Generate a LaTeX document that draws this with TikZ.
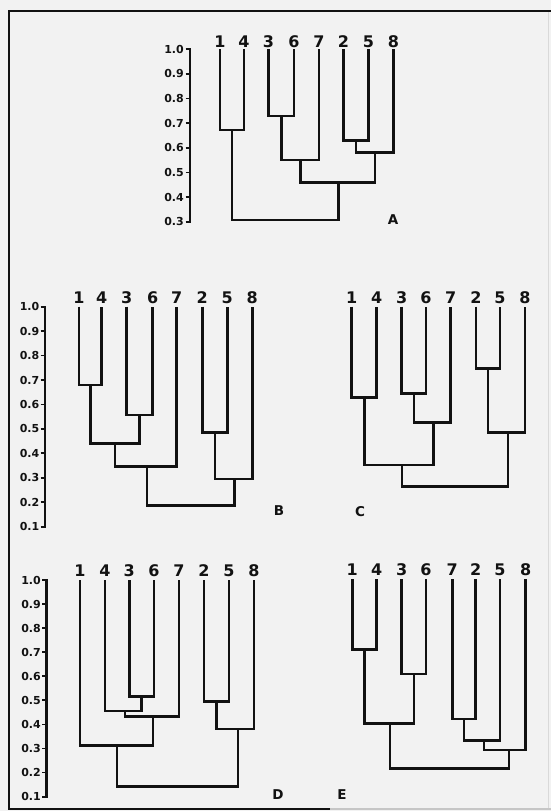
\documentclass[tikz,border=0pt]{standalone}
\usepackage{fontspec}
\setmainfont{DejaVu Sans}
\definecolor{paper}{RGB}{242,242,242}
\definecolor{ink}{RGB}{18,18,18}
\tikzset{
  link/.style={draw=ink, line width=2.6pt},
  axisline/.style={draw=ink, line width=2.3pt, line cap=rect},
  tickmark/.style={draw=ink, line width=1.8pt},
  leaflab/.style={font=\fontsize{16}{16}\selectfont\bfseries, text=ink, anchor=base, inner sep=0pt, yshift=3.5pt},
  ticklab/.style={font=\fontsize{11}{11}\selectfont\bfseries, text=ink, anchor=east, inner sep=0pt},
  panellab/.style={font=\fontsize{13.5}{13.5}\selectfont\bfseries, text=ink, inner sep=0pt},
  frame/.style={draw=ink, line width=2.6pt},
}
\begin{document}
\begin{tikzpicture}[x=1pt,y=-1pt]
  % page and outer frame
  \fill[paper] (0,0) rectangle (551,811);
  \useasboundingbox (0,0) rectangle (551,811);
  \draw[frame] (551,11) -- (9,11) -- (9,809) -- (330,809);
  \draw[draw=gray!45, line width=1.6pt] (330,809) -- (551,809);
  \draw[draw=gray!30, line width=1pt] (548,12) -- (548,808);

  % ---------------- dendrogram A ----------------
  \draw[axisline] (190,49.3) -- (190,221.7);
  \foreach \k/\v in {0/1.0,1/0.9,2/0.8,3/0.7,4/0.6,5/0.5,6/0.4,7/0.3} {
    \draw[tickmark] (185.5,49.3+\k*24.63) -- (190,49.3+\k*24.63);
    \node[ticklab] (A-y\k) at (184,49.3+\k*24.63) {\v};
  }
  \foreach \n/\x in {1/220,4/244,3/268.5,6/294,7/319,2/343.5,5/368.5,8/393.5} {
    \coordinate (A-\n) at (\x,49.3);
    \node[leaflab, yshift=-1.5pt] (A-l\n) at (A-\n) {\n};
  }
  \coordinate (A-m14)   at (232,130);
  \coordinate (A-m36)   at (281.3,116);
  \coordinate (A-m367)  at (300.2,160);
  \coordinate (A-m25)   at (356,140.7);
  \coordinate (A-m258)  at (374.8,152.7);
  \coordinate (A-mr)    at (338.5,182.7);
  \coordinate (A-root)  at (285.2,220);
  \draw[link] (A-1) |- (A-m14) -| (A-4);
  \draw[link] (A-3) |- (A-m36) -| (A-6);
  \draw[link] (A-m36) |- (A-m367) -| (A-7);
  \draw[link] (A-2) |- (A-m25) -| (A-5);
  \draw[link] (A-m25) |- (A-m258) -| (A-8);
  \draw[link] (A-m367) |- (A-mr) -| (A-m258);
  \draw[link] (A-m14) |- (A-root) -| (A-mr);
  \node[panellab] (A-name) at (393,220) {A};

  % ---------------- axis for B and C ----------------
  \draw[axisline] (45,306.7) -- (45,526.7);
  \foreach \k/\v in {0/1.0,1/0.9,2/0.8,3/0.7,4/0.6,5/0.5,6/0.4,7/0.3,8/0.2,9/0.1} {
    \draw[tickmark] (40.5,306.7+\k*24.44) -- (45,306.7+\k*24.44);
    \node[ticklab] (B-y\k) at (39.5,306.7+\k*24.44) {\v};
  }

  % ---------------- dendrogram B ----------------
  \foreach \n/\x in {1/79,4/101.7,3/126.7,6/152.7,7/176.7,2/202.3,5/227.3,8/252.3} {
    \coordinate (B-\n) at (\x,306.7);
    \node[leaflab] (B-l\n) at (B-\n) {\n};
  }
  \coordinate (B-m14)    at (90.3,385);
  \coordinate (B-m36)    at (139.7,415);
  \coordinate (B-m1436)  at (115,443.3);
  \coordinate (B-m14367) at (147,466.7);
  \coordinate (B-m25)    at (214.8,432.3);
  \coordinate (B-m258)   at (234.5,479);
  \coordinate (B-root)   at (190.7,505.7);
  \draw[link] (B-1) |- (B-m14) -| (B-4);
  \draw[link] (B-3) |- (B-m36) -| (B-6);
  \draw[link] (B-m14) |- (B-m1436) -| (B-m36);
  \draw[link] (B-m1436) |- (B-m14367) -| (B-7);
  \draw[link] (B-2) |- (B-m25) -| (B-5);
  \draw[link] (B-m25) |- (B-m258) -| (B-8);
  \draw[link] (B-m14367) |- (B-root) -| (B-m258);
  \node[panellab] (B-name) at (279,511) {B};

  % ---------------- dendrogram C ----------------
  \foreach \n/\x in {1/351.7,4/376.7,3/401.7,6/426,7/450.7,2/476,5/500,8/525} {
    \coordinate (C-\n) at (\x,306.7);
    \node[leaflab] (C-l\n) at (C-\n) {\n};
  }
  \coordinate (C-m14)    at (364.2,397.3);
  \coordinate (C-m36)    at (413.8,393.3);
  \coordinate (C-m367)   at (433.5,422.7);
  \coordinate (C-m25)    at (488,368.3);
  \coordinate (C-m258)   at (508,432.3);
  \coordinate (C-m14367) at (402,465);
  \coordinate (C-root)   at (455,486.7);
  \draw[link] (C-1) |- (C-m14) -| (C-4);
  \draw[link] (C-3) |- (C-m36) -| (C-6);
  \draw[link] (C-m36) |- (C-m367) -| (C-7);
  \draw[link] (C-2) |- (C-m25) -| (C-5);
  \draw[link] (C-m25) |- (C-m258) -| (C-8);
  \draw[link] (C-m14) |- (C-m14367) -| (C-m367);
  \draw[link] (C-m14367) |- (C-root) -| (C-m258);
  \node[panellab] (C-name) at (360,512) {C};

  % ---------------- axis for D and E ----------------
  \draw[axisline] (46.5,580) -- (46.5,796.7);
  \foreach \k/\v in {0/1.0,1/0.9,2/0.8,3/0.7,4/0.6,5/0.5,6/0.4,7/0.3,8/0.2,9/0.1} {
    \draw[tickmark] (42,580+\k*24.07) -- (46.5,580+\k*24.07);
    \node[ticklab] (D-y\k) at (41,580+\k*24.07) {\v};
  }

  % ---------------- dendrogram D ----------------
  \foreach \n/\x in {1/80,4/105,3/129.3,6/154,7/179,2/204,5/229,8/254} {
    \coordinate (D-\n) at (\x,580);
    \node[leaflab] (D-l\n) at (D-\n) {\n};
  }
  \coordinate (D-m36)    at (141.7,696.7);
  \coordinate (D-m436)   at (125,711);
  \coordinate (D-m4367)  at (153,716.7);
  \coordinate (D-m14367) at (117,745.7);
  \coordinate (D-m25)    at (216.5,701.7);
  \coordinate (D-m258)   at (238,729);
  \coordinate (D-root)   at (177.5,786.7);
  \draw[link] (D-3) |- (D-m36) -| (D-6);
  \draw[link] (D-4) |- (D-m436) -| (D-m36);
  \draw[link] (D-m436) |- (D-m4367) -| (D-7);
  \draw[link] (D-1) |- (D-m14367) -| (D-m4367);
  \draw[link] (D-2) |- (D-m25) -| (D-5);
  \draw[link] (D-m25) |- (D-m258) -| (D-8);
  \draw[link] (D-m14367) |- (D-root) -| (D-m258);
  \node[panellab] (D-name) at (278,795) {D};

  % ---------------- dendrogram E ----------------
  \foreach \n/\x in {1/352.3,4/376.7,3/401.7,6/426,7/452.3,2/475.7,5/500,8/525.7} {
    \coordinate (E-\n) at (\x,579);
    \node[leaflab] (E-l\n) at (E-\n) {\n};
  }
  \coordinate (E-m14)   at (364.5,649.3);
  \coordinate (E-m36)   at (413.8,674);
  \coordinate (E-m1436) at (390,723.3);
  \coordinate (E-m72)   at (464,719);
  \coordinate (E-m725)  at (484,740.7);
  \coordinate (E-m7258) at (509,750);
  \coordinate (E-root)  at (449.5,768.3);
  \draw[link] (E-1) |- (E-m14) -| (E-4);
  \draw[link] (E-3) |- (E-m36) -| (E-6);
  \draw[link] (E-m14) |- (E-m1436) -| (E-m36);
  \draw[link] (E-7) |- (E-m72) -| (E-2);
  \draw[link] (E-m72) |- (E-m725) -| (E-5);
  \draw[link] (E-m725) |- (E-m7258) -| (E-8);
  \draw[link] (E-m1436) |- (E-root) -| (E-m7258);
  \node[panellab] (E-name) at (342,795) {E};
\end{tikzpicture}
\end{document}
